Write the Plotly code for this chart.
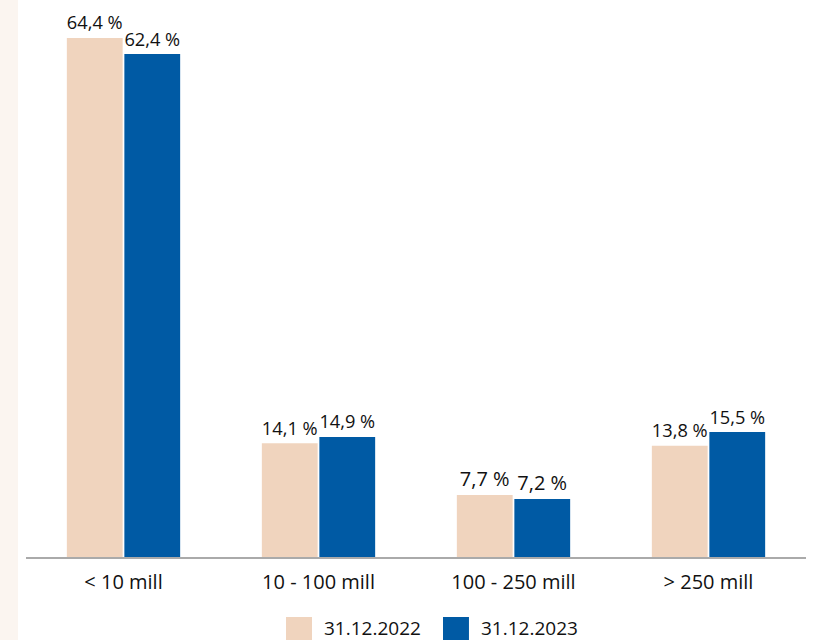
import plotly.graph_objects as go

categories = ["< 10 mill", "10 - 100 mill", "100 - 250 mill", "> 250 mill"]
values_2022 = [64.4, 14.1, 7.7, 13.8]
values_2023 = [62.4, 14.9, 7.2, 15.5]
series_names = ["31.12.2022", "31.12.2023"]

beige = "#F0D4BE"
blue = "#005AA4"
font_family = "Open Sans, Roboto, sans-serif"


def pct_label(v):
    return f"{v:.1f}".replace(".", ",") + " %"


fig = go.Figure()
for name, vals, col in [(series_names[0], values_2022, beige), (series_names[1], values_2023, blue)]:
    fig.add_trace(go.Bar(
        x=categories, y=vals, name=name, marker_color=col, marker_line_width=0,
        text=[pct_label(v) for v in vals], textposition="outside", cliponaxis=False,
        textfont=dict(size=20, color="#111111"), showlegend=False,
    ))

# light strip on the left edge
fig.add_shape(type="rect", xref="paper", yref="paper", x0=-0.034, x1=-0.0103, y0=-0.2, y1=1.0,
              fillcolor="#FBF5F0", line_width=0, layer="below")

# legend drawn by hand so the swatches can be big squares
legend_swatch_x = [(0.3333, 0.3667), (0.5346, 0.5679)]
legend_text_x = [0.3795, 0.5808]
for name, col, (sx0, sx1), tx in zip(series_names, [beige, blue], legend_swatch_x, legend_text_x):
    fig.add_shape(type="rect", xref="paper", yref="paper", x0=sx0, x1=sx1, y0=-0.1077, y1=-0.16,
                  fillcolor=col, line_width=0)
    fig.add_annotation(text=name, xref="paper", yref="paper", x=tx, y=-0.127,
                       xanchor="left", yanchor="middle", showarrow=False,
                       font=dict(size=19, color="#111111", family=font_family))

fig.update_layout(
    width=813, height=640,
    margin=dict(l=26, r=7, t=0, b=83),
    paper_bgcolor="white", plot_bgcolor="white",
    font=dict(family=font_family, size=20, color="#111111"),
    barmode="group", bargap=0.41, bargroupgap=0.03,
    showlegend=False,
    xaxis=dict(showline=True, linecolor="#aaaaaa", linewidth=1.5, ticks="",
               tickfont=dict(size=20), showgrid=False, automargin=False, ticklabelstandoff=6),
    yaxis=dict(range=[0, 69.1], visible=False, showgrid=False, automargin=False),
)

# drop the default page margin so the figure sits at the window's corner
fig.write_html("out.html", config={"displayModeBar": False},
               post_script="document.body.style.margin='0';")
